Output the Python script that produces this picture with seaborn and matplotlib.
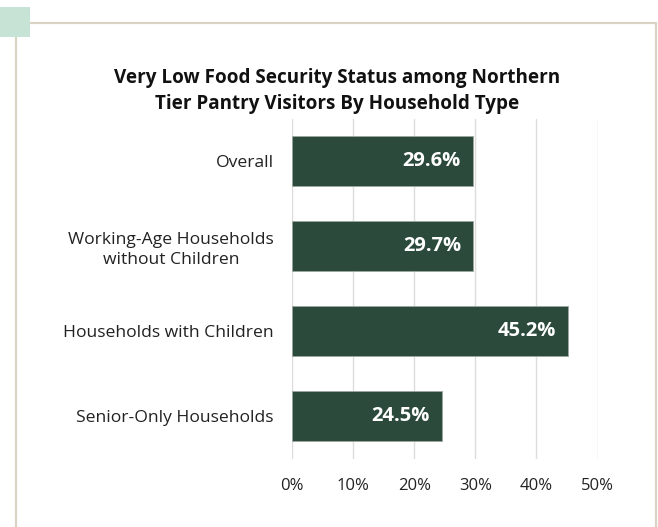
import matplotlib
matplotlib.use("Agg")
import matplotlib.pyplot as plt
import seaborn as sns
import pandas as pd
from matplotlib.patches import Rectangle

categories = ["Overall", "Working-Age Households\nwithout Children",
              "Households with Children", "Senior-Only Households"]
values = [29.6, 29.7, 45.2, 24.5]
value_labels = ["29.6%", "29.7%", "45.2%", "24.5%"]
xticks = [0, 10, 20, 30, 40, 50]
xtick_labels = ["0%", "10%", "20%", "30%", "40%", "50%"]
title = "Very Low Food Security Status among Northern\nTier Pantry Visitors By Household Type"

sns.set_theme(style="white")
plt.rcParams['font.family'] = ['Open Sans', 'DejaVu Sans']

W, H = 658, 527
fig = plt.figure(figsize=(W / 100, H / 100), dpi=100)
fig.patch.set_facecolor("white")

# frame (open at the bottom, runs off the image) and corner square
frame_col = "#dad2c3"
fig.add_artist(Rectangle((15.5 / W, -0.2), (656 - 15.5) / W, 1.2 - 22.5 / H,
                         facecolor="none", edgecolor=frame_col, lw=1.6,
                         transform=fig.transFigure, clip_on=False, zorder=1))
fig.add_artist(Rectangle((0, 1 - 37 / H), 30 / W, 30 / H, facecolor="#c7e3d6",
                         edgecolor="none", transform=fig.transFigure, zorder=5))

ax = fig.add_axes([292 / W, 1 - 458.5 / H, 305.5 / W, 340 / H])
df = pd.DataFrame({"category": categories, "value": values})
sns.barplot(data=df, x="value", y="category", orient="h", color="#2b4a3c",
            width=0.588, saturation=1, edgecolor="#9aa89f", linewidth=0.6, ax=ax, zorder=3)

ax.set_xlim(0, 50)
ax.set_xticks(xticks)
ax.set_xticklabels(xtick_labels, fontsize=12, color="#222222")
ax.tick_params(axis="x", length=0, pad=14)
ax.tick_params(axis="y", length=0, pad=13)
for lab in ax.get_yticklabels():
    lab.set_fontsize(12.6)
    lab.set_color("#222222")
    lab.set_multialignment("center")
    lab.set_linespacing(1.3)
ax.set_xlabel("")
ax.set_ylabel("")
ax.grid(axis="x", color="#dcdcdc", lw=1.0, zorder=0)
ax.grid(axis="y", visible=False)
for s in ax.spines.values():
    s.set_visible(False)

for p, lbl in zip(ax.patches, value_labels):
    x_end = p.get_x() + p.get_width()
    yc = p.get_y() + p.get_height() / 2
    ax.annotate(lbl, (x_end, yc), xytext=(-9, 0), textcoords="offset points",
                ha="right", va="center", color="white", fontsize=14.5,
                fontweight="bold", zorder=4)

fig.text(337 / W, 1 - 91 / H, title, ha="center", va="center", fontsize=13.6,
         fontweight="bold", color="#111111", linespacing=1.4)

fig.savefig("out.png", dpi=100, facecolor="white")
